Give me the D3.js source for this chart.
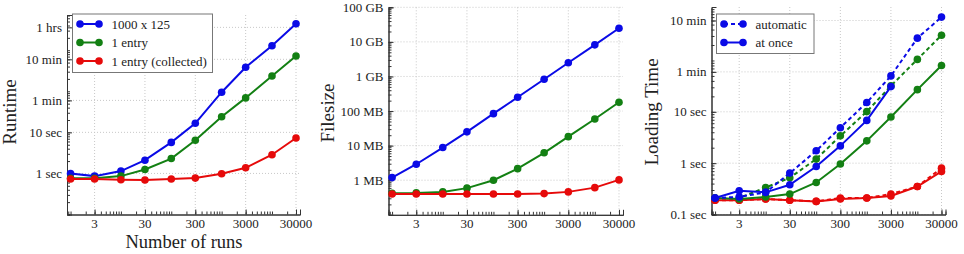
<!DOCTYPE html>
<html>
<head>
<meta charset="utf-8">
<script src="https://cdn.jsdelivr.net/npm/d3@7"></script>
<style>
  body { margin: 0; background: #fff; }
  svg { display: block; font-family: "Liberation Serif", "DejaVu Serif", serif; }
  .grid line { stroke: #c8c8c8; stroke-width: 1; stroke-dasharray: 1,2; }
</style>
</head>
<body>
<svg width="964" height="254"></svg>
<script>
// number of runs (shared x values)
var runs = [1, 3, 10, 30, 100, 300, 1000, 3000, 10000, 30000];
var xTickValues = [3, 30, 300, 3000, 30000];

// runtime in seconds
var runtimeBlue  = [1.0, 0.86, 1.14, 2.1, 5.7, 16.6, 95, 385, 1280, 4400];
var runtimeGreen = [0.76, 0.76, 0.86, 1.25, 2.3, 6.4, 24, 69, 235, 725];
var runtimeRed   = [0.73, 0.73, 0.70, 0.69, 0.73, 0.77, 0.98, 1.37, 2.85, 7.3];
var runtimeTicks = [1, 10, 60, 600, 3600];
var runtimeLabels = ["1 sec", "10 sec", "1 min", "10 min", "1 hrs"];

// filesize in MB
var sizeBlue  = [1.19, 2.9, 8.8, 25, 84, 250, 830, 2500, 8200, 24800];
var sizeGreen = [0.42, 0.43, 0.46, 0.59, 1.0, 2.16, 6.2, 18.2, 59, 180];
var sizeRed   = [0.40, 0.40, 0.40, 0.40, 0.40, 0.40, 0.41, 0.46, 0.61, 1.02];
var sizeTicks = [1, 10, 100, 1000, 10000, 100000];
var sizeLabels = ["1 MB", "10 MB", "100 MB", "1 GB", "10 GB", "100 GB"];

// loading time in seconds
var loadAutoBlue  = [0.21, 0.22, 0.27, 0.64, 1.74, 4.9, 15.2, 50, 272, 700];
var loadAutoGreen = [0.21, 0.21, 0.335, 0.52, 1.2, 3.4, 10.1, 32, 105, 310];
var loadAutoRed   = [0.19, 0.19, 0.20, 0.19, 0.18, 0.21, 0.21, 0.25, 0.35, 0.80];
var loadOnceBlue  = [0.21, 0.29, 0.27, 0.38, 0.86, 2.17, 6.8, 31];
var loadOnceGreen = [0.21, 0.20, 0.22, 0.25, 0.42, 0.96, 2.72, 7.9, 27, 80];
var loadOnceRed   = [0.19, 0.19, 0.20, 0.19, 0.18, 0.20, 0.21, 0.23, 0.35, 0.69];
var loadTicks = [0.1, 1, 10, 60, 600];
var loadLabels = ["0.1 sec", "1 sec", "10 sec", "1 min", "10 min"];

var blue = "#0a0ae6", green = "#138013", red = "#e60a0a";

var svg = d3.select("svg");

function minorTicks(domain) {
    var out = [];
    for (var e = -2; e <= 6; e++) {
        for (var m = 1; m <= 9; m++) {
            var v = m * Math.pow(10, e);
            if (v >= domain[0] && v <= domain[1]) out.push(v);
        }
    }
    return out;
}

function panel(opt) {
    var g = svg.append("g");
    var x = d3.scaleLog().domain([0.85, 36000]).range([opt.left, opt.right]);
    var y = d3.scaleLog().domain(opt.yDomain).range([opt.bottom, opt.top]);

    // grid
    var grid = g.append("g").attr("class", "grid");
    grid.selectAll(".gx").data(xTickValues).enter().append("line")
        .attr("x1", d => x(d)).attr("x2", d => x(d))
        .attr("y1", opt.top).attr("y2", opt.bottom);
    grid.selectAll(".gy").data(opt.yTicks).enter().append("line")
        .attr("x1", opt.left).attr("x2", opt.right)
        .attr("y1", d => y(d)).attr("y2", d => y(d));

    // x axis (ticks point inward)
    var xa = g.append("g").attr("transform", "translate(0," + opt.bottom + ")");
    xa.call(d3.axisTop(x).tickValues(minorTicks(x.domain())).tickSize(3).tickFormat(""));
    xa.append("g").call(d3.axisTop(x).tickValues(xTickValues).tickSize(5).tickFormat(""));
    xa.selectAll("path").attr("stroke", "#333");
    xa.selectAll("line").attr("stroke", "#333");
    g.append("g").selectAll("text").data(xTickValues).enter().append("text")
        .attr("x", d => x(d)).attr("y", opt.bottom + 13.5)
        .attr("text-anchor", "middle").attr("font-size", 13).attr("fill", "#222")
        .text(d => d);

    // y axis (ticks point inward)
    var ya = g.append("g").attr("transform", "translate(" + opt.left + ",0)");
    ya.call(d3.axisRight(y).tickValues(minorTicks(y.domain())).tickSize(3).tickFormat(""));
    ya.append("g").call(d3.axisRight(y).tickValues(opt.yTicks).tickSize(5).tickFormat(""));
    ya.selectAll("path").attr("stroke", "#333");
    ya.selectAll("line").attr("stroke", "#333");
    g.append("g").selectAll("text").data(opt.yTicks).enter().append("text")
        .attr("x", opt.left - 5).attr("y", d => y(d)).attr("dy", "0.35em")
        .attr("text-anchor", "end").attr("font-size", 13).attr("fill", "#222")
        .text((d, i) => opt.yLabels[i]);

    // axis title
    g.append("text")
        .attr("transform", "translate(" + opt.titleX + "," + opt.titleY + ") rotate(-90)")
        .attr("text-anchor", "middle").attr("font-size", 19).attr("fill", "#222")
        .text(opt.title);

    // series
    opt.series.forEach(function(s) {
        var pts = s.values.map((v, i) => [runs[i], v]);
        var line = d3.line().x(d => x(d[0])).y(d => y(d[1]));
        g.append("path").datum(pts)
            .attr("d", line).attr("fill", "none")
            .attr("stroke", s.color).attr("stroke-width", 2)
            .attr("stroke-dasharray", s.dashed ? "4,3" : null);
        g.append("g").selectAll("circle").data(pts).enter().append("circle")
            .attr("cx", d => x(d[0])).attr("cy", d => y(d[1]))
            .attr("r", 3.8).attr("fill", s.color);
    });
    return g;
}

function legend(g, box, items) {
    g.append("rect").attr("x", box.x).attr("y", box.y)
        .attr("width", box.w).attr("height", box.h)
        .attr("fill", "#fff").attr("stroke", "#777").attr("stroke-width", 1);
    items.forEach(function(it, i) {
        var yy = box.y + 10 + i * 18.5;
        var x0 = box.x + 7.5, x1 = box.x + 26.5;
        g.append("line").attr("x1", x0).attr("x2", x1).attr("y1", yy).attr("y2", yy)
            .attr("stroke", it.color).attr("stroke-width", 2)
            .attr("stroke-dasharray", it.dashed ? "4,3" : null);
        g.append("circle").attr("cx", x0).attr("cy", yy).attr("r", 3.8).attr("fill", it.color);
        g.append("circle").attr("cx", x1).attr("cy", yy).attr("r", 3.8).attr("fill", it.color);
        g.append("text").attr("x", box.x + 39).attr("y", yy).attr("dy", "0.35em")
            .attr("font-size", 13).attr("fill", "#222").text(it.label);
    });
}

var p1 = panel({
    left: 67, right: 300, top: 15, bottom: 214.5,
    yDomain: [0.1, 7200], yTicks: runtimeTicks, yLabels: runtimeLabels,
    title: "Runtime", titleX: 16, titleY: 112,
    series: [
        {values: runtimeBlue, color: blue},
        {values: runtimeGreen, color: green},
        {values: runtimeRed, color: red}
    ]
});
legend(p1, {x: 72.5, y: 14, w: 140, h: 58.5}, [
    {label: "1000 x 125", color: blue},
    {label: "1 entry", color: green},
    {label: "1 entry (collected)", color: red}
]);
p1.append("text").attr("x", 184).attr("y", 247.5)
    .attr("text-anchor", "middle").attr("font-size", 18.5).attr("fill", "#222")
    .text("Number of runs");

panel({
    left: 388.5, right: 623, top: 7.3, bottom: 214.8,
    yDomain: [0.1, 100000], yTicks: sizeTicks, yLabels: sizeLabels,
    title: "Filesize", titleX: 334, titleY: 113,
    series: [
        {values: sizeBlue, color: blue},
        {values: sizeGreen, color: green},
        {values: sizeRed, color: red}
    ]
});

var p3 = panel({
    left: 711.5, right: 945.5, top: 7, bottom: 214.5,
    yDomain: [0.1, 1100], yTicks: loadTicks, yLabels: loadLabels,
    title: "Loading Time", titleX: 658, titleY: 112,
    series: [
        {values: loadAutoRed, color: red, dashed: true},
        {values: loadOnceRed, color: red},
        {values: loadAutoGreen, color: green, dashed: true},
        {values: loadOnceGreen, color: green},
        {values: loadAutoBlue, color: blue, dashed: true},
        {values: loadOnceBlue, color: blue}
    ]
});
legend(p3, {x: 716.5, y: 14, w: 97.5, h: 39.5}, [
    {label: "automatic", color: blue, dashed: true},
    {label: "at once", color: blue}
]);
</script>
</body>
</html>
